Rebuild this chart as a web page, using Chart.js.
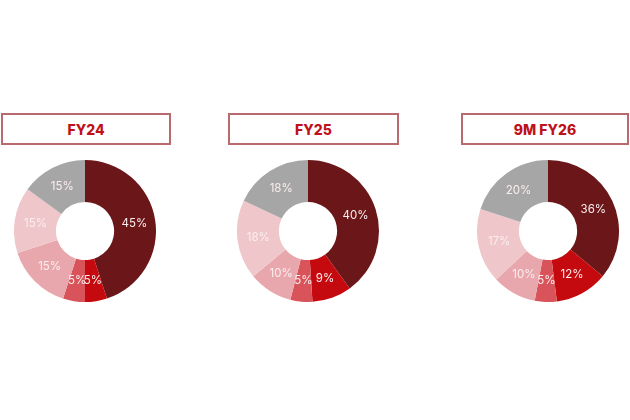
<!DOCTYPE html>
<html lang="en">
<head>
    <meta charset="UTF-8">
    <title>Revenue Mix</title>
    <script src="https://cdn.jsdelivr.net/npm/chart.js"></script>
    <style>
        html, body { margin: 0; padding: 0; background: #ffffff; }
        body { width: 630px; height: 420px; position: relative; overflow: hidden; font-family: Inter, "Open Sans", sans-serif; }
        .box {
            position: absolute; top: 113px; height: 28px;
            border: 2px solid #b96a6f; box-sizing: content-box;
            color: #c0111b; font-weight: 800; font-size: 14px;
            display: flex; align-items: center; justify-content: center;
        }
        .pie { position: absolute; top: 160px; width: 142px; height: 142px; }
    </style>
</head>
<body>
    <div class="box" style="left:1px; width:166px;">FY24</div>
    <div class="box" style="left:228px; width:167px;">FY25</div>
    <div class="box" style="left:461px; width:164px;">9M FY26</div>

    <div class="pie" style="left:14px;"><canvas id="c0"></canvas></div>
    <div class="pie" style="left:237px;"><canvas id="c1"></canvas></div>
    <div class="pie" style="left:477px;"><canvas id="c2"></canvas></div>

    <script>
        // segment shares, clockwise from 12 o'clock
        const periods = ['FY24', 'FY25', '9M FY26'];
        const fy24 = [45, 5, 5, 15, 15, 15];
        const fy25 = [40, 9, 5, 10, 18, 18];
        const fy26 = [36, 12, 5, 10, 17, 20];
        const colors = ['#6b1618', '#c40a0e', '#d8535a', '#e8a7ac', '#efc6c9', '#a6a6a6'];

        // draws the % text in the middle of each ring slice
        const pctLabels = {
            id: 'pctLabels',
            afterDatasetsDraw(chart) {
                const ctx = chart.ctx;
                const data = chart.data.datasets[0].data;
                ctx.save();
                ctx.font = '11.5px Inter, "Open Sans", sans-serif';
                ctx.fillStyle = '#fbeeee';
                ctx.textAlign = 'center';
                ctx.textBaseline = 'middle';
                chart.getDatasetMeta(0).data.forEach((arc, i) => {
                    const p = arc.tooltipPosition();
                    ctx.fillText(data[i] + '%', p.x, p.y);
                });
                ctx.restore();
            }
        };

        [fy24, fy25, fy26].forEach((vals, i) => {
            new Chart(document.getElementById('c' + i), {
                type: 'doughnut',
                data: {
                    labels: vals.map((v, j) => 'Segment ' + (j + 1)),
                    datasets: [{ label: periods[i], data: vals, backgroundColor: colors, borderWidth: 0 }]
                },
                options: {
                    responsive: true,
                    maintainAspectRatio: false,
                    animation: false,
                    cutout: '41%',
                    layout: { padding: 0 },
                    plugins: { legend: { display: false }, tooltip: { enabled: false } }
                },
                plugins: [pctLabels]
            });
        });
    </script>
</body>
</html>
